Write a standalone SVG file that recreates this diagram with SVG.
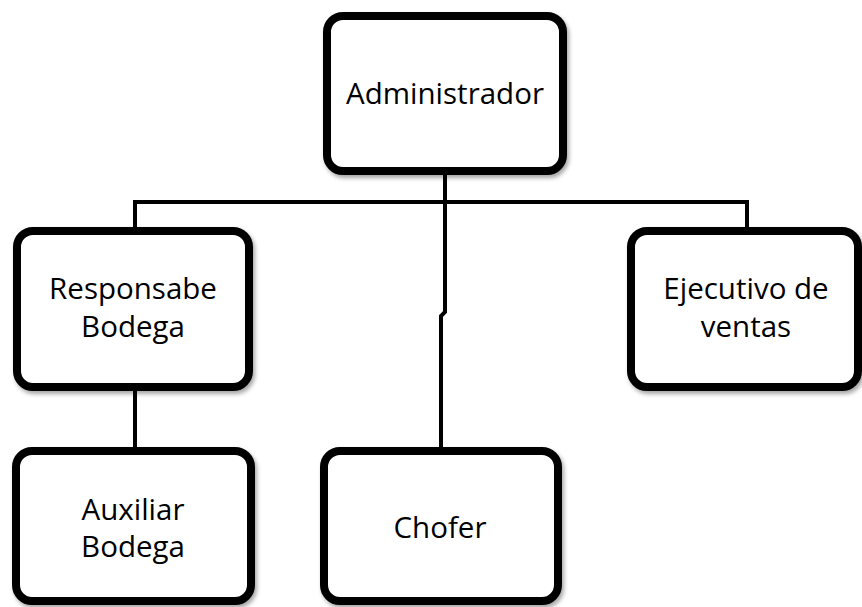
<svg xmlns="http://www.w3.org/2000/svg" width="862" height="607" viewBox="0 0 862 607">
<defs>
<filter id="sh" x="-10%" y="-10%" width="125%" height="125%">
<feDropShadow dx="2" dy="3" stdDeviation="2" flood-color="#000" flood-opacity="0.35"/>
</filter>
</defs>
<style>
.box{fill:#fff;stroke:#000;stroke-width:8;filter:url(#sh)}
.lbl{font-family:"Open Sans","Liberation Sans",sans-serif;font-size:29.5px;fill:#000;text-anchor:middle}
.conn{fill:none;stroke:#000;stroke-width:4}
</style>
<rect width="862" height="607" fill="#fff"/>
<g id="connectors">
<path class="conn" d="M445 175 V202"/>
<path class="conn" d="M135 231 V202 H747 V231"/>
<path class="conn" d="M445 202 V312 L441 316 V451"/>
<path class="conn" d="M135 391 V451"/>
</g>
<g id="administrador">
<rect class="box" x="327" y="16" width="236" height="155" rx="16"/>
<text class="lbl" x="445" y="104">Administrador</text>
</g>
<g id="responsabe-bodega">
<rect class="box" x="17" y="231" width="232" height="156" rx="16"/>
<text class="lbl" x="133" y="299">Responsabe</text>
<text class="lbl" x="133" y="337">Bodega</text>
</g>
<g id="ejecutivo-ventas">
<rect class="box" x="631" y="231" width="227" height="156" rx="16"/>
<text class="lbl" x="746" y="299">Ejecutivo de</text>
<text class="lbl" x="746" y="337">ventas</text>
</g>
<g id="auxiliar-bodega">
<rect class="box" x="16" y="451" width="235" height="150" rx="16"/>
<text class="lbl" x="133" y="520">Auxiliar</text>
<text class="lbl" x="133" y="557">Bodega</text>
</g>
<g id="chofer">
<rect class="box" x="324" y="451" width="234" height="150" rx="16"/>
<text class="lbl" x="440" y="538">Chofer</text>
</g>
</svg>
